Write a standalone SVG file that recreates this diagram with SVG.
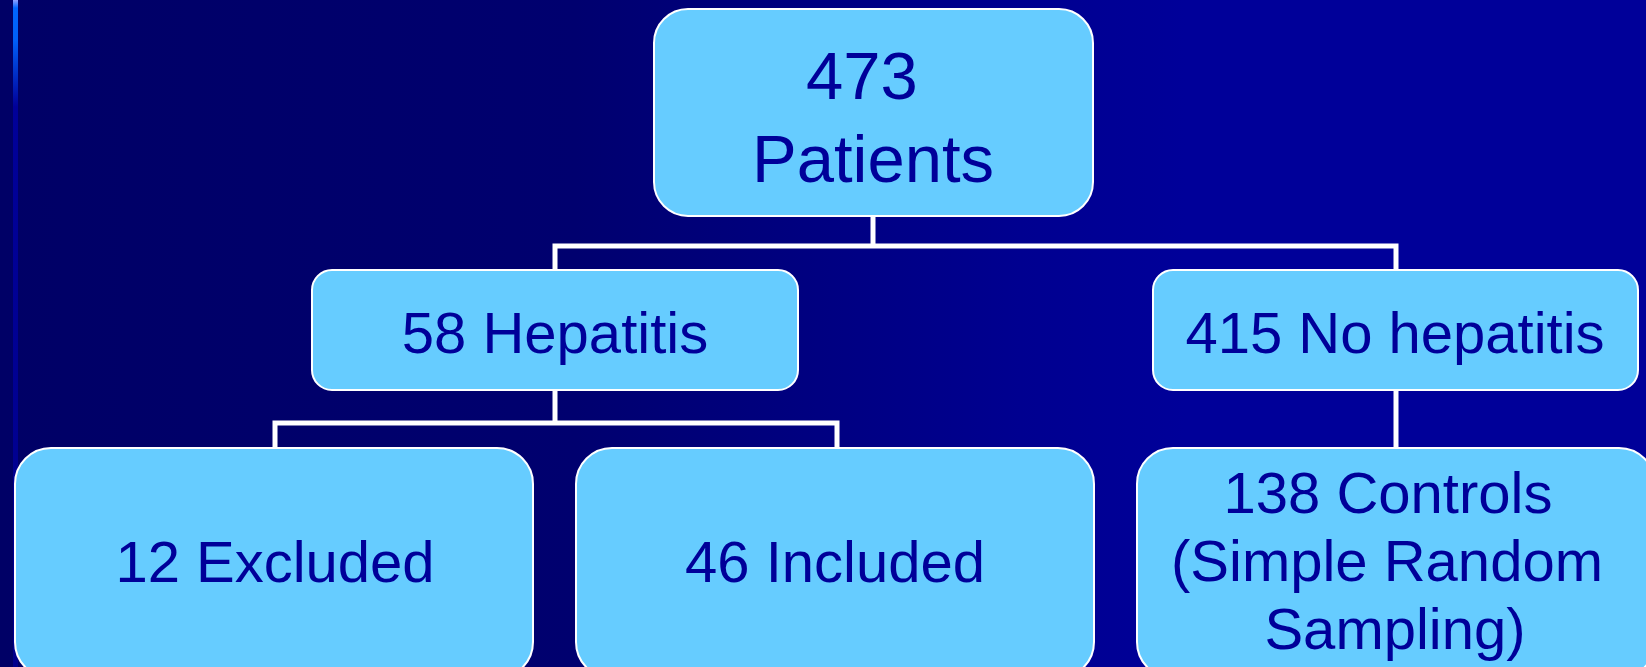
<svg xmlns="http://www.w3.org/2000/svg" width="1646" height="667" viewBox="0 0 1646 667">
  <defs>
    <linearGradient id="bg" x1="0" y1="0" x2="1" y2="0">
      <stop offset="0" stop-color="#000066"/>
      <stop offset="0.35" stop-color="#00006f"/>
      <stop offset="0.62" stop-color="#000090"/>
      <stop offset="0.72" stop-color="#000099"/>
      <stop offset="1" stop-color="#000099"/>
    </linearGradient>
    <linearGradient id="stripe" x1="0" y1="0" x2="0" y2="1">
      <stop offset="0" stop-color="#8fa0ff"/>
      <stop offset="0.012" stop-color="#0066ff"/>
      <stop offset="0.06" stop-color="#0060f8"/>
      <stop offset="0.16" stop-color="#000099"/>
      <stop offset="1" stop-color="#00008c"/>
    </linearGradient>
    <style>
      .box { fill: #66CCFF; stroke: #ffffff; stroke-width: 2; }
      .lbl { font-family: "Liberation Sans", Arial, sans-serif; fill: #000099; text-anchor: middle; font-size: 58px; }
      .big { font-size: 67px; }
      .conn { fill: none; stroke: #ffffff; stroke-width: 5; stroke-linejoin: miter; stroke-linecap: butt; }
    </style>
  </defs>

  <rect x="0" y="0" width="1646" height="667" fill="url(#bg)"/>
  <rect x="13" y="0" width="5" height="667" fill="url(#stripe)"/>

  <g id="connectors">
    <path class="conn" d="M873,216 V246"/>
    <path class="conn" d="M555,270 V246 H1396 V270"/>
    <path class="conn" d="M555,390 V423"/>
    <path class="conn" d="M275,448 V423 H837 V448"/>
    <path class="conn" d="M1396,390 V448"/>
  </g>

  <g id="node-patients">
    <rect class="box" x="654" y="9" width="439" height="207" rx="34" ry="34"/>
    <text class="lbl big" x="862" y="99">473</text>
    <text class="lbl big" x="873" y="182">Patients</text>
  </g>

  <g id="node-hepatitis">
    <rect class="box" x="312" y="270" width="486" height="120" rx="20" ry="20"/>
    <text class="lbl" x="555" y="353">58 Hepatitis</text>
  </g>

  <g id="node-no-hepatitis">
    <rect class="box" x="1153" y="270" width="485" height="120" rx="20" ry="20"/>
    <text class="lbl" x="1395" y="353">415 No hepatitis</text>
  </g>

  <g id="node-excluded">
    <rect class="box" x="15" y="448" width="518" height="230" rx="36" ry="36"/>
    <text class="lbl" x="275" y="582">12 Excluded</text>
  </g>

  <g id="node-included">
    <rect class="box" x="576" y="448" width="518" height="230" rx="36" ry="36"/>
    <text class="lbl" x="835" y="582">46 Included</text>
  </g>

  <g id="node-controls">
    <rect class="box" x="1137" y="448" width="518" height="230" rx="36" ry="36"/>
    <text class="lbl" x="1388" y="513">138 Controls</text>
    <text class="lbl" x="1387" y="581">(Simple Random</text>
    <text class="lbl" x="1395" y="649">Sampling)</text>
  </g>
</svg>
